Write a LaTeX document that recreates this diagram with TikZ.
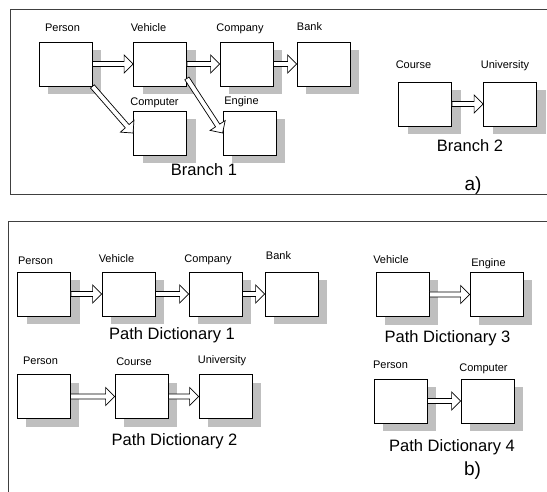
\documentclass[tikz,border=0pt]{standalone}
\usepackage{fontspec}
\setmainfont{Liberation Sans}
\usetikzlibrary{calc,shadows}
\tikzset{
    classbox/.style={draw=black, line width=0.8pt, fill=white, minimum width=53pt, minimum height=44pt, inner sep=0pt,
        drop shadow={shadow xshift=9pt, shadow yshift=-8pt, fill=black!25, opacity=1, draw=none}},
    classname/.style={anchor=base, inner sep=0pt, font=\fontsize{11}{13}\selectfont},
    groupname/.style={anchor=base, inner sep=0pt, font=\fontsize{16.5}{19}\selectfont},
    partname/.style={anchor=base, inner sep=0pt, font=\fontsize{19}{22}\selectfont},
    framerule/.style={draw=black!75, line width=1pt},
    linkarrow/.style={draw=black, line width=0.7pt, fill=white, line join=miter}
}
\newcommand{\linkto}[2]{%
    \coordinate (hd) at ($(#2)!9pt!(#1)$);
    \draw[linkarrow] ($(#1)!2.5pt!90:(#2)$) -- ($(hd)!2.5pt!90:(#2)$) -- ($(hd)!9pt!90:(#2)$) -- (#2)
        -- ($(hd)!9pt!-90:(#2)$) -- ($(hd)!2.5pt!-90:(#2)$) -- ($(#1)!2.5pt!-90:(#2)$) -- cycle;
}

\begin{document}
\begin{tikzpicture}[x=1pt, y=-1pt]
    \useasboundingbox (0,0) rectangle (547,492);

    % a) branches
    \draw[framerule] (547,10) -- (10,10) -- (10,195) -- (547,195);
    \node[classbox] (pa) at (65.5,64) {};
    \node[classbox] (va) at (160,64) {};
    \node[classbox] (ca) at (246.5,64) {};
    \node[classbox] (ba) at (323.5,64) {};
    \node[classbox] (cpa) at (160,133) {};
    \node[classbox] (ea) at (249.5,133) {};
    \node[classbox] (coa) at (425,104) {};
    \node[classbox] (ua) at (510,104) {};

    \node[classname] (pa-t) at (62.5,32) {Person};
    \node[classname] (va-t) at (148.5,32) {Vehicle};
    \node[classname] (ca-t) at (240,32) {Company};
    \node[classname] (ba-t) at (309.5,31) {Bank};
    \node[classname] (cpa-t) at (154.5,106) {Computer};
    \node[classname] (ea-t) at (241.5,105) {Engine};
    \node[classname] (coa-t) at (413.5,69) {Course};
    \node[classname] (ua-t) at (505,69) {University};
    \node[groupname] (br1) at (204,176) {Branch 1};
    \node[groupname] (br2) at (470,152) {Branch 2};
    \node[partname] (pta) at (473,191) {a)};

    \coordinate (vatail) at ([yshift=8pt]va.south east);
    \linkto{pa.east}{va.west}
    \linkto{va.east}{ca.west}
    \linkto{ca.east}{ba.west}
    \linkto{pa.south east}{cpa.west}
    \linkto{vatail}{ea.west}
    \linkto{coa.east}{ua.west}

    % b) path dictionaries
    \draw[framerule] (547,222) -- (8,222) -- (8,492);
    \node[classbox] (pb) at (44,294) {};
    \node[classbox] (vb) at (128.5,294) {};
    \node[classbox] (cb) at (215.5,294) {};
    \node[classbox] (bb) at (291.5,294) {};
    \node[classbox] (pc) at (43.5,396.5) {};
    \node[classbox] (cob) at (141.5,396.5) {};
    \node[classbox] (ub) at (225.5,396.5) {};
    \node[classbox] (vc) at (402.5,294.5) {};
    \node[classbox] (ec) at (496.5,294.5) {};
    \node[classbox] (pd) at (400.5,401) {};
    \node[classbox] (cpd) at (487.5,401) {};

    \node[classname] (pb-t) at (35.5,265) {Person};
    \node[classname] (vb-t) at (116.5,262) {Vehicle};
    \node[classname] (cb-t) at (208,262) {Company};
    \node[classname] (bb-t) at (278.5,260) {Bank};
    \node[classname] (pc-t) at (40.5,364) {Person};
    \node[classname] (cob-t) at (134,366) {Course};
    \node[classname] (ub-t) at (222,363) {University};
    \node[classname] (vc-t) at (391,264) {Vehicle};
    \node[classname] (ec-t) at (488.5,266) {Engine};
    \node[classname] (pd-t) at (390.5,368) {Person};
    \node[classname] (cpd-t) at (483.5,371) {Computer};
    \node[groupname] (pd1) at (172,339) {Path Dictionary 1};
    \node[groupname] (pd2) at (174.5,445) {Path Dictionary 2};
    \node[groupname] (pd3) at (447.5,342) {Path Dictionary 3};
    \node[groupname] (pd4) at (452,451) {Path Dictionary 4};
    \node[partname] (ptb) at (472.5,475) {b)};

    \linkto{pb.east}{vb.west}
    \linkto{vb.east}{cb.west}
    \linkto{cb.east}{bb.west}
    \linkto{pc.east}{cob.west}
    \linkto{cob.east}{ub.west}
    \linkto{vc.east}{ec.west}
    \linkto{pd.east}{cpd.west}
\end{tikzpicture}
\end{document}
